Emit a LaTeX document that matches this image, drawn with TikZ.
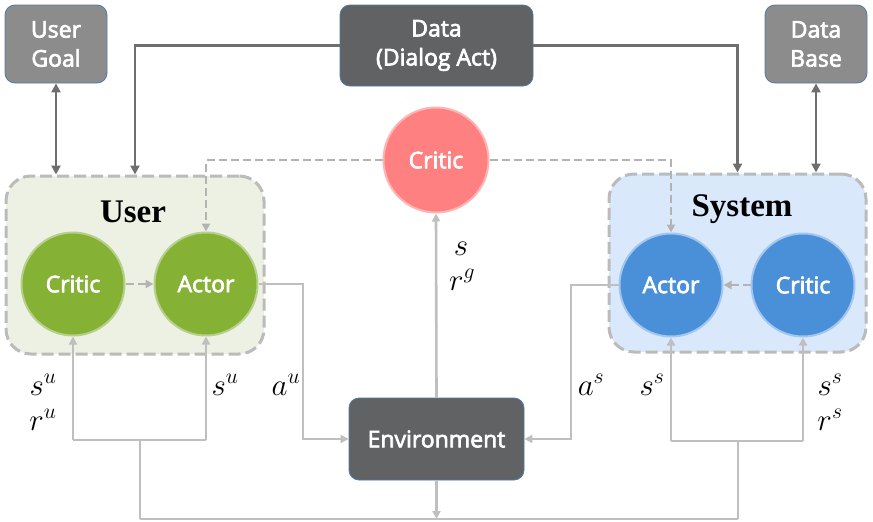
\documentclass[tikz,border=0pt]{standalone}
\usepackage{fix-cm}
\usepackage{fontspec}
\newfontfamily\sansf{Open Sans}[FakeBold=3]
\newfontfamily\seriff{Liberation Serif}
\usetikzlibrary{arrows.meta,calc}
\definecolor{darkbox}{HTML}{616264}
\definecolor{lightbox}{HTML}{8C8C8C}
\definecolor{boxborder}{HTML}{4F7BA6}
\definecolor{darkline}{HTML}{6E6E6E}
\definecolor{lightline}{HTML}{BFBFBF}
\definecolor{dashline}{HTML}{B3B3B3}
\definecolor{ugreen}{HTML}{85B135}
\definecolor{ugreenglow}{HTML}{B5D08A}
\definecolor{sblue}{HTML}{4A90D9}
\definecolor{sblueglow}{HTML}{A3C6EE}
\definecolor{cred}{HTML}{FF8080}
\definecolor{credglow}{HTML}{FFB3B3}
\definecolor{userfill}{HTML}{EDF1E3}
\definecolor{sysfill}{HTML}{DAE8FC}
\begin{document}
\begin{tikzpicture}[x=1pt,y=-1pt,
  boxnode/.style={rectangle,rounded corners=10pt,draw=boxborder,line width=0.8pt,
    text=white,align=center,font=\sansf\fontsize{23}{29}\selectfont},
  darkfill/.style={boxnode,fill=darkbox},
  lightfill/.style={boxnode,fill=lightbox},
  grp/.style={rectangle,rounded corners=25pt,draw=dashline!90,line width=3pt,
    dash pattern=on 12pt off 5pt},
  circ/.style={circle,inner sep=0pt,minimum size=103pt,line width=2pt,text=white,
    font=\sansf\fontsize{23}{27}\selectfont},
  darkarrow/.style={draw=darkline,line width=2.8pt,
    arrows={-Triangle[length=9pt,width=9pt]}},
  darkboth/.style={draw=darkline,line width=2.8pt,
    arrows={Triangle[length=9pt,width=9pt]-Triangle[length=9pt,width=9pt]}},
  lightarrow/.style={draw=lightline,line width=2.6pt,
    arrows={-Triangle[length=8pt,width=8pt]}},
  lightplain/.style={draw=lightline,line width=2.6pt},
  dasharrow/.style={draw=dashline,line width=2.6pt,dash pattern=on 8pt off 4pt,
    arrows={-Triangle[length=8pt,width=8pt]}},
  mlabel/.style={anchor=base,inner sep=0pt,font=\fontsize{31}{34}\selectfont},
  grptitle/.style={font=\seriff\bfseries\fontsize{33}{36}\selectfont,inner sep=0pt}
]
\useasboundingbox (0,0) rectangle (873,522);

% groups
\node[grp,fill=userfill,minimum width=258pt,minimum height=178pt] (usergrp) at (135,265) {};
\node[grp,fill=sysfill,minimum width=257pt,minimum height=178pt] (sysgrp) at (737.5,263) {};
\node[grptitle] (usertitle) at (133,212) {User};
\node[grptitle] (systitle) at (742,209) {System};

% top boxes
\node[lightfill,minimum width=102pt,minimum height=78pt] (usergoal) at (56,44) {User\\Goal};
\node[darkfill,minimum width=193pt,minimum height=81pt] (data) at (436.5,45.5) {Data\\(Dialog Act)};
\node[lightfill,minimum width=102pt,minimum height=78pt] (database) at (816,44) {Data\\Base};

% circles
\node[circ,fill=ugreen,draw=ugreenglow] (ucritic) at (73,284) {Critic};
\node[circ,fill=ugreen,draw=ugreenglow] (uactor) at (206,284) {Actor};
\node[circ,fill=sblue,draw=sblueglow] (sactor) at (671,285) {Actor};
\node[circ,fill=sblue,draw=sblueglow] (scritic) at (803,285) {Critic};
\node[circ,fill=cred,draw=credglow,minimum size=105pt] (rcritic) at (436,160) {Critic};

% environment
\node[darkfill,minimum width=175pt,minimum height=82pt] (env) at (436.5,439) {Environment};

% dark connectors
\draw[darkboth] (usergoal.south) -- (usergoal.south |- usergrp.north);
\draw[darkboth] (database.south) -- (database.south |- sysgrp.north);
\draw[darkarrow] (data.west) -| (usergrp.north);
\draw[darkarrow] (data.east) -| (sysgrp.north);

% dashed connectors
\draw[dasharrow] (rcritic.west) -| (uactor.north);
\draw[dasharrow] (rcritic.east) -| (sactor.north);
\draw[dasharrow] (ucritic.east) -- (uactor.west);
\draw[dasharrow] (scritic.west) -- (sactor.east);

% environment connectors
\coordinate (ua) at (303,284);
\coordinate (sa) at (571,285);
\draw[lightarrow] (env.north) -- (rcritic.south);
\draw[lightarrow] (uactor.east) -- (ua) |- (env.west);
\draw[lightarrow] (sactor.west) -- (sa) |- (env.west -| env.east);

\coordinate (bl) at (140,519);
\coordinate (br) at (738,519);
\coordinate (ujA) at (73,440);
\coordinate (ujB) at (206,440);
\coordinate (sjA) at (671,441);
\coordinate (sjB) at (803,441);
\draw[lightplain] (bl) -- (br);
\draw[lightarrow] (env.south) -- (env.south |- bl);
\draw[lightplain] (bl) -- (bl |- ujA);
\draw[lightplain] (ujA) -- (ujB);
\draw[lightarrow] (ujA) -- (ucritic.south);
\draw[lightarrow] (ujB) -- (uactor.south);
\draw[lightplain] (br) -- (br |- sjA);
\draw[lightplain] (sjA) -- (sjB);
\draw[lightarrow] (sjA) -- (sactor.south);
\draw[lightarrow] (sjB) -- (scritic.south);

% labels
\node[mlabel] (l1) at (43,395) {$s^u$};
\node[mlabel] (l2) at (43,430) {$r^u$};
\node[mlabel] (l3) at (225,395) {$s^u$};
\node[mlabel] (l4) at (286,395) {$a^u$};
\node[mlabel] (l5) at (461,255) {$s$};
\node[mlabel] (l6) at (462,290) {$r^g$};
\node[mlabel] (l7) at (591,395) {$a^s$};
\node[mlabel] (l8) at (652,395) {$s^s$};
\node[mlabel] (l9) at (830,395) {$s^s$};
\node[mlabel] (l10) at (830,430) {$r^s$};
\end{tikzpicture}
\end{document}
